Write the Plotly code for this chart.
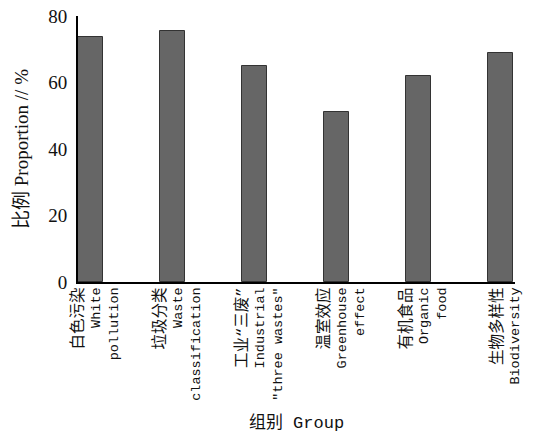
import plotly.graph_objects as go

groups_cn = ["白色污染", "垃圾分类", "工业“三废”", "温室效应", "有机食品", "生物多样性"]
groups_en1 = ["White", "Waste", "Industrial", "Greenhouse", "Organic", "Biodiversity"]
groups_en2 = ["pollution", "classification", "\"three wastes\"", "effect", "food", ""]
proportion = [73.7, 75.5, 65.0, 51.0, 62.0, 68.8]
y_ticks = [0, 20, 40, 60, 80]

labels = []
for cn, e1, e2 in zip(groups_cn, groups_en1, groups_en2):
    parts = ['<span style="font-size:15.5px">' + cn + '</span>', e1] + ([e2] if e2 else [])
    labels.append("<br>".join(parts))

fig = go.Figure()
fig.add_trace(go.Bar(
    x=labels, y=proportion,
    width=0.305, offset=-0.22,
    marker=dict(color="#666666", line=dict(color="#333333", width=1)),
))

tick_font = dict(family="Liberation Mono, Noto Sans CJK SC", size=13.5, color="#111")
fig.update_layout(
    width=543, height=433,
    margin=dict(l=78, r=28, t=16, b=151),
    paper_bgcolor="white", plot_bgcolor="white",
    showlegend=False,
    xaxis=dict(
        type="category", range=[-0.22, 5.11],
        tickangle=-90, tickfont=tick_font,
        showline=True, linecolor="black", linewidth=2,
        ticks="", showgrid=False, automargin=False,
        ticklabelstandoff=-2,
        title=dict(text="组别 Group", font=dict(family="Liberation Mono, Noto Sans CJK SC", size=17, color="#111"), standoff=23),
    ),
    yaxis=dict(
        range=[0, 80], tickvals=y_ticks,
        tickfont=dict(family="Liberation Serif", size=19, color="#111"),
        showline=True, linecolor="black", linewidth=2,
        ticks="inside", ticklen=5, tickwidth=2, tickcolor="black",
        ticklabelstandoff=5,
        showgrid=False, zeroline=False, layer="below traces", automargin=False,
        title=dict(text="比例 Proportion // %", font=dict(family="Liberation Serif, Noto Sans CJK SC", size=19, color="#111"), standoff=15),
    ),
    bargap=0,
)
fig.write_html("out.html", post_script="document.body.style.margin='0';",
               config={"displayModeBar": False})
